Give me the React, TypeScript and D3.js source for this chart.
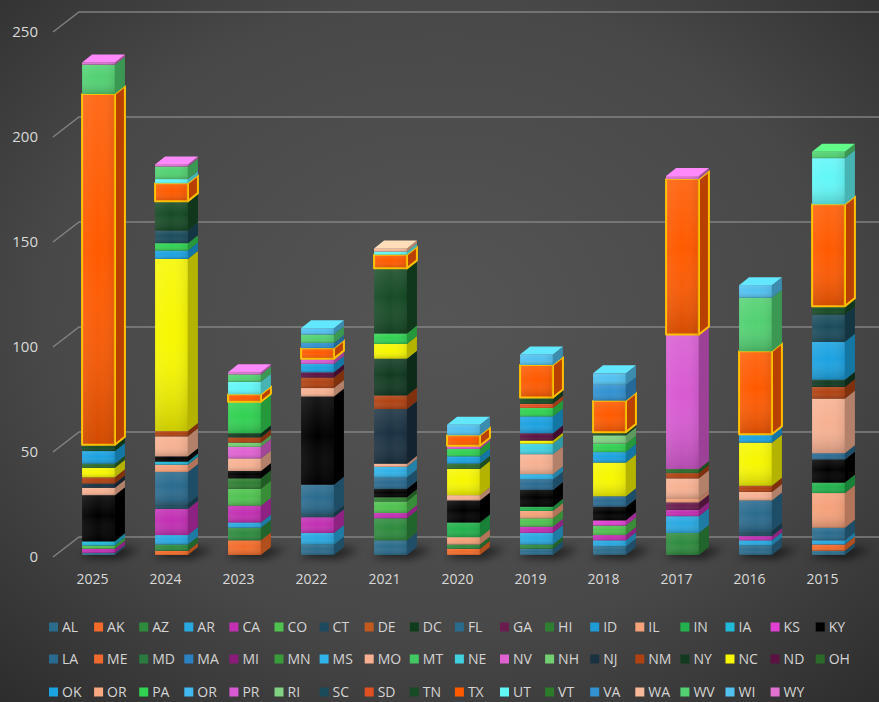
import React from "react";
import * as d3 from "d3";

const categories = ["2025", "2024", "2023", "2022", "2021", "2020", "2019", "2018", "2017", "2016", "2015"];

const states = [
  "AL", "AK", "AZ", "AR", "CA", "CO", "CT", "DE", "DC", "FL", "GA", "HI", "ID", "IL", "IN", "IA", "KS", "KY",
  "LA", "ME", "MD", "MA", "MI", "MN", "MS", "MO", "MT", "NE", "NV", "NH", "NJ", "NM", "NY", "NC", "ND", "OH",
  "OK", "OR", "PA", "OR", "PR", "RI", "SC", "SD", "TN", "TX", "UT", "VT", "VA", "WA", "WV", "WI", "WY",
];

const colors = [
  "#2b6c8c", "#f26b2a", "#2e8b3e", "#29a9e1", "#c22fb3", "#4fc24f", "#1d4a5e", "#c25a1e", "#0f3d1b", "#2a6b8e", "#6b1c4e", "#2f7f33", "#1f9bd6", "#f5a17a", "#22b14c", "#20b9d8", "#e041d2", "#000000",
  "#2a6a91", "#f06a2e", "#2a7a40", "#2b82c3", "#8b1b7b", "#3a9b3a", "#31b2e8", "#f7b192", "#42c862", "#42d1e1", "#e062d2", "#72d072", "#1a3142", "#b04212", "#113a21", "#f7f700", "#5b1141", "#2b6a2b",
  "#1ba2e1", "#f8a982", "#31d152", "#42b9f0", "#d85ad2", "#80d182", "#1a4b5b", "#e05121", "#164b26", "#ff5a00", "#62f7f7", "#2b7b2b", "#3191d1", "#f8b99a", "#52d172", "#52c1f0", "#e272d2",
];

// values per year, in legend order (AL ... WY)
const v2025 = [
  1, 0, 0, 0, 2, 1.5, 0, 0, 0, 0, 0, 0, 0, 0, 0, 2, 0, 22,
  0, 0, 0, 0, 0, 0, 0, 3.5, 0, 0, 0, 0, 2, 3, 0, 4.5, 0, 2,
  6, 0, 0, 0, 0, 0, 0, 0, 3, 167, 0, 0, 0, 0, 14, 0, 1,
];
const v2024 = [
  0, 2, 3, 4.5, 12.5, 0, 2.5, 0, 0, 15, 0, 0, 0, 3.5, 0, 1.5, 0, 2.5,
  0, 0, 0, 0, 0, 0, 0, 9.5, 0, 0, 0, 0, 0, 2.5, 0, 82, 0, 0,
  4, 0, 3.5, 0, 0, 0, 6, 0, 14, 8.5, 2, 0, 0, 0, 6, 0, 1,
];
const v2023 = [
  0, 7, 6, 2.5, 8, 8, 0, 0, 0, 0, 0, 5, 0, 0, 0, 0, 0, 3.5,
  0, 0, 0, 0, 0, 0, 0, 6, 0, 0, 5.5, 2, 0, 2.5, 2, 0, 0, 0,
  0, 0, 15, 0, 0, 0, 0, 0, 0, 3.5, 6, 0, 0, 0, 3.5, 0, 1,
];
const v2022 = [
  5, 0, 0, 5.5, 7.5, 0, 2, 0, 0, 13.5, 0, 0, 0, 0, 0, 0, 0, 42,
  0, 0, 0, 0, 0, 0, 0, 4, 0, 0, 0, 0, 0, 5, 0, 0, 2.5, 0,
  4, 0, 0, 0, 2.5, 0, 0, 0, 0, 5, 0, 0, 2.5, 0, 4, 3, 0,
];
const v2021 = [
  7, 0, 10.5, 0, 2.5, 5.5, 0, 0, 0, 0, 0, 2, 0, 0, 0, 0, 0, 4,
  5.5, 0, 0, 0, 0, 0, 5, 1.5, 0, 0, 0, 0, 26, 6.5, 17.5, 7, 0, 0,
  0, 0, 5, 0, 0, 0, 0, 0, 31, 6.5, 1.5, 0, 0, 1.5, 0, 0, 0,
];
const v2020 = [
  0, 3, 2, 0, 0, 0, 0, 0, 0, 0, 0, 0, 0, 3.5, 7, 0, 0, 10.5,
  0, 0, 0, 0, 0, 0, 0, 2.5, 0, 0, 0, 0, 0, 0, 0, 12.5, 0, 2.5,
  3.5, 0, 3.5, 0, 1.5, 0, 0, 0, 0, 5, 0, 0, 0, 0, 0, 5, 0,
];
const v2019 = [
  3, 0, 2, 5.5, 3, 4, 0, 0, 0, 0, 0, 0, 0, 3.5, 2, 0, 0, 8,
  5, 0, 0, 0, 0, 0, 2.5, 9.5, 0, 5, 0, 0, 0, 0, 0, 1.5, 3.5, 0,
  8, 0, 4, 0, 0, 0, 0, 2, 3, 15.5, 0, 0, 0, 0, 0, 5, 0,
];
const v2018 = [
  4, 0, 0, 3, 2.5, 4.5, 0, 0, 0, 0, 0, 0, 0, 0, 0, 0, 2.5, 6.5,
  5, 0, 0, 0, 0, 0, 0, 0, 0, 0, 0, 0, 0, 0, 0, 16, 0, 0,
  5, 0, 4, 0, 0, 4, 0, 0, 1.5, 15, 0, 0, 7.5, 0, 0, 5.5, 0,
];
const v2017 = [
  0, 0, 10.5, 8, 3, 0, 0, 0, 0, 0, 3.5, 0, 0, 2, 0, 0, 0, 0,
  0, 0, 0, 0, 0, 0, 0, 9.5, 0, 0, 0, 0, 0, 2.5, 0, 0, 0, 2,
  0, 0, 0, 0, 64, 0, 0, 0, 0, 74, 0, 0, 0, 0, 0, 0, 1.5,
];
const v2016 = [
  4.5, 0, 0, 2.5, 2, 0, 2.5, 0, 0, 14.5, 0, 0, 0, 0, 0, 0, 0, 0,
  0, 0, 0, 0, 0, 0, 0, 4, 0, 0, 0, 0, 0, 3, 0, 20.5, 0, 0,
  4, 0, 0, 0, 0, 0, 0, 0, 0, 39.5, 0, 0, 0, 0, 25.5, 6, 0,
];
const v2015 = [
  2, 3, 0, 2, 0, 0, 0, 0, 0, 6, 0, 0, 0, 16.5, 5, 0, 0, 11,
  3, 0, 0, 0, 0, 0, 0, 26, 0, 0, 0, 0, 0, 5.5, 3.5, 0, 0, 0,
  18, 0, 0, 0, 0, 0, 13, 0, 4, 48.5, 22, 0, 0, 0, 3, 0, 0,
];

const yearValues = [v2025, v2024, v2023, v2022, v2021, v2020, v2019, v2018, v2017, v2016, v2015];
const yTicks = [0, 50, 100, 150, 200, 250];
const highlighted = "TX";

const W = 879;
const H = 702;
const DX = 10;
const DY = -8;

export default function App() {
  const x = d3.scaleBand<string>().domain(categories).range([62, 865]).paddingInner(0.55).paddingOuter(0.275);
  const y = d3.scaleLinear().domain([0, 250]).range([555, 30]);
  const bw = x.bandwidth();

  const table = categories.map((c, ci) => {
    const row: any = { cat: c };
    states.forEach((s, si) => (row["k" + si] = yearValues[ci][si]));
    return row;
  });
  const keys = states.map((_, i) => "k" + i);
  const stacked = d3.stack<any>().keys(keys)(table);

  const font = "'Open Sans', 'Noto Sans', sans-serif";

  const bars: React.ReactNode[] = [];
  categories.forEach((c, ci) => {
    const x0 = x(c) as number;
    const x1 = x0 + bw;
    const segs = stacked
      .map((layer, li) => ({ li, y0: layer[ci][0], y1: layer[ci][1] }))
      .filter((s) => s.y1 - s.y0 > 0);
    const topIdx = segs.length - 1;
    const baseY = y(0);
    bars.push(
      <polygon
        key={"sh" + c}
        points={`${x0 - 2},${baseY + 2} ${x1 + 4},${baseY + 4} ${x1 + DX + 16},${baseY - 6} ${x0 + DX + 6},${baseY - 10}`}
        fill="#000"
        opacity={0.55}
        filter="url(#blur)"
      />
    );
    segs.forEach((s, k) => {
      const col = colors[s.li];
      const yb = y(s.y0);
      const yt = y(s.y1);
      const side = d3.color(col)!.darker(0.9).formatHex();
      const topc = d3.color(col)!.brighter(0.5).formatHex();
      const isHi = states[s.li] === highlighted;
      const h = Math.max(0.5, yb - yt);
      bars.push(
        <g key={c + "-" + s.li}>
          <rect x={x0} y={yt} width={bw} height={h} fill={col} />
          <rect x={x0} y={yt} width={bw} height={h} fill="url(#segShade)" />
          <polygon points={`${x1},${yt} ${x1 + DX},${yt + DY} ${x1 + DX},${yb + DY} ${x1},${yb}`} fill={side} />
          {k === topIdx && (
            <polygon points={`${x0},${yt} ${x0 + DX},${yt + DY} ${x1 + DX},${yt + DY} ${x1},${yt}`} fill={topc} />
          )}
          {isHi && (
            <g fill="none" stroke="#ffc000" strokeWidth={2} strokeLinejoin="round">
              <rect x={x0} y={yt} width={bw} height={h} />
              <polygon points={`${x1},${yt} ${x1 + DX},${yt + DY} ${x1 + DX},${yb + DY} ${x1},${yb}`} />
            </g>
          )}
        </g>
      );
    });
    const total = segs.length ? segs[topIdx].y1 : 0;
    bars.push(
      <rect key={"gl" + c} x={x0} y={y(total)} width={bw} height={y(0) - y(total)} fill="url(#gloss)" pointerEvents="none" />
    );
  });

  const legendRows = [states.slice(0, 18), states.slice(18, 36), states.slice(36)];
  const legendY = [627, 659, 692];

  return (
    <svg width={W} height={H} style={{ position: "absolute", left: 0, top: 0 }} xmlns="http://www.w3.org/2000/svg">
      <defs>
        <radialGradient id="bg" cx="50%" cy="45%" r="75%">
          <stop offset="0%" stopColor="#555555" />
          <stop offset="60%" stopColor="#484848" />
          <stop offset="100%" stopColor="#2c2c2c" />
        </radialGradient>
        <linearGradient id="gloss" x1="0" y1="0" x2="1" y2="0">
          <stop offset="0%" stopColor="#fff" stopOpacity={0.06} />
          <stop offset="50%" stopColor="#fff" stopOpacity={0} />
          <stop offset="100%" stopColor="#000" stopOpacity={0.08} />
        </linearGradient>
        <linearGradient id="segShade" x1="0" y1="0" x2="0" y2="1">
          <stop offset="0%" stopColor="#fff" stopOpacity={0.1} />
          <stop offset="45%" stopColor="#fff" stopOpacity={0} />
          <stop offset="100%" stopColor="#000" stopOpacity={0.18} />
        </linearGradient>
        <filter id="blur" x="-50%" y="-50%" width="200%" height="200%">
          <feGaussianBlur stdDeviation="4" />
        </filter>
      </defs>
      <rect x={0} y={0} width={W} height={H} fill="url(#bg)" />
      {yTicks.map((t) => {
        const yf = y(t) + 2;
        return (
          <g key={"g" + t}>
            <path d={`M53,${yf} L79,${yf - 20} L${W},${yf - 20}`} fill="none" stroke="#8c8c8c" strokeWidth={1.5} opacity={0.85} />
            <text x={38} y={yf} dy="0.35em" textAnchor="end" fontFamily={font} fontSize={15} fill="#d9d9d9">
              {t}
            </text>
          </g>
        );
      })}
      {bars}
      {categories.map((c) => (
        <text key={"c" + c} x={(x(c) as number) + bw / 2 - 6} y={579} dy="0.35em" textAnchor="middle" fontFamily={font} fontSize={14} fill="#d9d9d9">
          {c}
        </text>
      ))}
      {legendRows.map((row, ri) =>
        row.map((s, i) => {
          const idx = ri * 18 + i;
          const sx = 49 + i * 45.1;
          return (
            <g key={"l" + idx}>
              <rect x={sx} y={legendY[ri] - 4.5} width={9} height={9} fill={colors[idx]} />
              <text x={sx + 13} y={legendY[ri]} dy="0.35em" fontFamily={font} fontSize={14} fill="#d4d4d4">
                {s}
              </text>
            </g>
          );
        })
      )}
    </svg>
  );
}
